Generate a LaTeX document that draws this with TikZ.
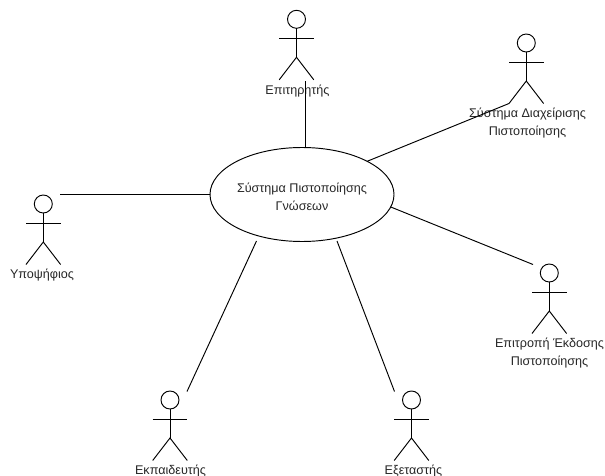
\documentclass[tikz,border=0pt]{standalone}
\usepackage{fontspec}
\setmainfont{Liberation Sans}
\usetikzlibrary{shapes.geometric}
\tikzset{
  link/.style={draw=black,line width=0.95pt},
  label/.style={font=\fontsize{12.6}{18}\selectfont,align=center,inner sep=0pt,outer sep=0pt,text=black!85},
  usecase/.style={ellipse,draw=black,line width=0.95pt,minimum width=184pt,minimum height=94pt,inner sep=0pt,outer sep=0pt},
  actorpart/.style={draw=black,line width=0.95pt},
  actorhead/.style={circle,draw=black,line width=0.95pt,minimum size=18pt,inner sep=0pt,outer sep=0pt},
  pics/actor/.style={code={
    \node[actorhead] (-head) at (0,0) {};
    \coordinate (-armL) at (-17.3,19.3);
    \coordinate (-armR) at (17.3,19.3);
    \coordinate (-hip) at (0,38);
    \coordinate (-footL) at (-17.3,60.5);
    \coordinate (-footR) at (17.3,60.5);
    \draw[actorpart] (-head.south) -- (-hip);
    \draw[actorpart] (-armL) -- (-armR);
    \draw[actorpart] (-footL) -- (-hip) -- (-footR);
  }}
}
\begin{document}
\begin{tikzpicture}[x=1pt,y=-1pt]
\useasboundingbox (0,0) rectangle (605,476);
\node[usecase,label] (sys) at (302,194.5) {\rule{0pt}{13.5pt}Σύστημα Πιστοποίησης\\Γνώσεων};

\pic (ep) at (296.5,19.3) {actor};
\pic (sd) at (526.3,43) {actor};
\pic (yp) at (43.3,204) {actor};
\pic (ee) at (549.3,273) {actor};
\pic (ek) at (170,400) {actor};
\pic (ex) at (411.5,400) {actor};

\node[label] (lep) at (297.5,91) {Επιτηρητής};
\node[label] (lsd) at (527.5,123) {Σύστημα Διαχείρισης\\Πιστοποίησης};
\node[label] (lyp) at (42,275) {Υποψήφιος};
\node[label] (lee) at (549.5,353.5) {Επιτροπή Έκδοσης\\Πιστοποίησης};
\node[label] (lek) at (170.5,471) {Εκπαιδευτής};
\node[label] (lex) at (413.5,471) {Εξεταστής};

\coordinate (epEnd) at (305.5,81);
\coordinate (ypEnd) at (60,194.5);
\coordinate (eeEnd) at (533,264.5);
\coordinate (ekEnd) at (187,391.5);
\coordinate (exEnd) at (394.5,391.5);
\coordinate (sysEk) at (256.5,241);
\coordinate (sysEx) at (337,241);
\coordinate (sysEp) at (305.5,147.5);

\draw[link] (sysEp) -- (epEnd);
\draw[link] (sys.27) -- (sd-footL);
\draw[link] (sys.west) -- (ypEnd);
\draw[link] (sys.-8) -- (eeEnd);
\draw[link] (sysEk) -- (ekEnd);
\draw[link] (sysEx) -- (exEnd);
\end{tikzpicture}
\end{document}
